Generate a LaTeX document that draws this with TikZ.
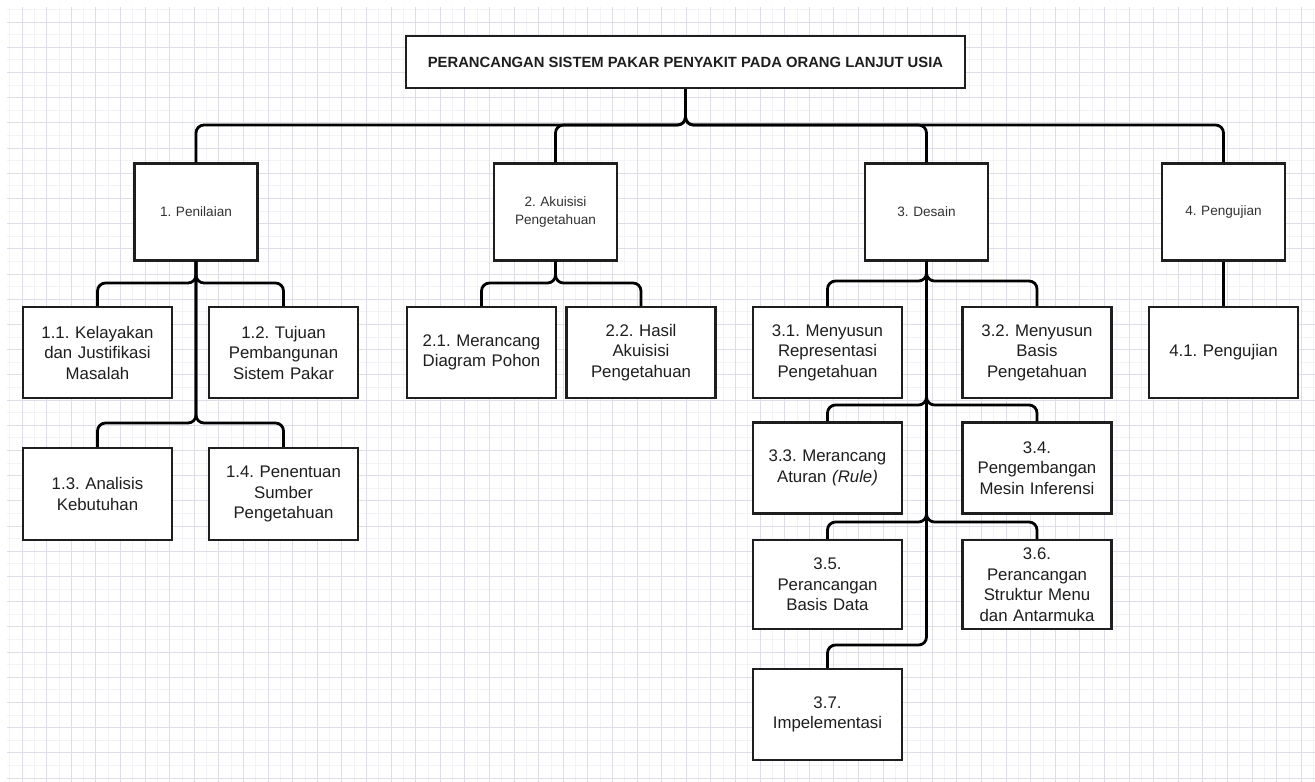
\documentclass[tikz,border=0pt]{standalone}
\usepackage{fontspec}
\setmainfont{Liberation Sans}
\frenchspacing
\definecolor{gridmajor}{RGB}{222,222,232}
\definecolor{gridminor}{RGB}{242,242,247}
\definecolor{boxline}{RGB}{30,30,30}
\definecolor{txtmain}{RGB}{30,30,30}
\definecolor{txtsoft}{RGB}{50,50,50}
\tikzset{
  box/.style={draw=boxline, line width=2.2pt, fill=white, inner sep=2pt, align=center},
  topbox/.style={box, minimum width=559pt, minimum height=52pt,
    font=\bfseries\fontsize{14.8}{17}\selectfont, text=txtmain},
  phasebox/.style={box, minimum width=123pt, minimum height=97pt,
    font=\fontsize{13.6}{17.5}\selectfont, text=txtsoft, text width=115pt},
  taskbox/.style={box, minimum width=149pt, minimum height=91pt,
    font=\fontsize{16.8}{20.5}\selectfont, text=txtmain, text width=141pt},
  conn/.style={draw=black, line width=2.8pt, rounded corners=8pt},
}
\begin{document}
\begin{tikzpicture}[x=1pt, y=-1pt]
\useasboundingbox (0,0) rectangle (1315,782);
\fill[white] (0,0) rectangle (1315,782);

% background grid
\foreach \k in {0,...,53} {
  \draw[gridminor, line width=0.8pt] ({9.7+24.6*\k},7) -- ({9.7+24.6*\k},782);
}
\foreach \k in {0,...,30} {
  \draw[gridminor, line width=0.8pt] (7,{9.4+25.2*\k}) -- (1315,{9.4+25.2*\k});
}
\foreach \k in {0,...,52} {
  \draw[gridmajor, line width=0.9pt] ({22+24.6*\k},7) -- ({22+24.6*\k},782);
}
\foreach \k in {0,...,30} {
  \draw[gridmajor, line width=0.9pt] (7,{22+25.2*\k}) -- (1315,{22+25.2*\k});
}

% boxes
\node[topbox] (root) at (685.5,62) {PERANCANGAN SISTEM PAKAR PENYAKIT PADA ORANG LANJUT USIA};

\node[phasebox] (p1) at (196,212) {1. Penilaian};
\node[phasebox] (p2) at (555.5,212) {2. Akuisisi\\Pengetahuan};
\node[phasebox] (p3) at (926.5,212) {3. Desain};
\node[phasebox] (p4) at (1223.5,212) {4. Pengujian};

\node[taskbox] (t11) at (97.5,352.5) {1.1. Kelayakan\\dan Justifikasi\\Masalah};
\node[taskbox] (t12) at (283.5,352.5) {1.2. Tujuan\\Pembangunan\\Sistem Pakar};
\node[taskbox, minimum height=92pt] (t13) at (97.5,494) {1.3. Analisis\\Kebutuhan};
\node[taskbox, minimum height=92pt] (t14) at (283.5,494) {1.4. Penentuan\\Sumber\\Pengetahuan};

\node[taskbox] (t21) at (481.5,352.5) {2.1. Merancang\\Diagram Pohon};
\node[taskbox] (t22) at (641,352.5) {2.2. Hasil\\Akuisisi\\Pengetahuan};

\node[taskbox] (t31) at (827.5,352.5) {3.1. Menyusun\\Representasi\\Pengetahuan};
\node[taskbox] (t32) at (1037,352.5) {3.2. Menyusun\\Basis\\Pengetahuan};
\node[taskbox] (t33) at (827.5,468) {3.3. Merancang\\Aturan \textit{(Rule)}};
\node[taskbox] (t34) at (1037,468) {3.4.\\Pengembangan\\Mesin Inferensi};
\node[taskbox, minimum height=89pt] (t35) at (827.5,584.5) {3.5.\\Perancangan\\Basis Data};
\node[taskbox, minimum height=89pt] (t36) at (1037,584.5) {3.6.\\Perancangan\\Struktur Menu\\dan Antarmuka};
\node[taskbox] (t37) at (827.5,714.5) {3.7.\\Impelementasi};

\node[taskbox] (t41) at (1223.5,352.5) {4.1. Pengujian};

% branching levels
\coordinate (jroot) at (685.5,125);
\coordinate (j1a) at (196,283);
\coordinate (j1b) at (196,423);
\coordinate (j2a) at (555.5,283);
\coordinate (j3a) at (926.5,281);
\coordinate (j3b) at (926.5,405);
\coordinate (j3c) at (926.5,522);
\coordinate (j3d) at (926.5,645);

% connectors
\foreach \c in {p1,p2,p3,p4} {
  \draw[conn] (root.south) -- (root.south |- jroot) -- (\c.north |- jroot) -- (\c.north);
}
\foreach \c in {t11,t12} {
  \draw[conn] (p1.south) -- (p1.south |- j1a) -- (\c.north |- j1a) -- (\c.north);
}
\foreach \c in {t13,t14} {
  \draw[conn] (p1.south) -- (p1.south |- j1b) -- (\c.north |- j1b) -- (\c.north);
}
\foreach \c in {t21,t22} {
  \draw[conn] (p2.south) -- (p2.south |- j2a) -- (\c.north |- j2a) -- (\c.north);
}
\foreach \c in {t31,t32} {
  \draw[conn] (p3.south) -- (p3.south |- j3a) -- (\c.north |- j3a) -- (\c.north);
}
\foreach \c in {t33,t34} {
  \draw[conn] (p3.south) -- (p3.south |- j3b) -- (\c.north |- j3b) -- (\c.north);
}
\draw[conn] (p3.south) -- (p3.south |- j3c) -- (t35.north |- j3c) -- (t35.north);
\draw[conn] (p3.south) -- (p3.south |- j3c) -- (t36.north |- j3c) -- (t36.north);
\draw[conn] (p3.south) -- (p3.south |- j3d) -- (t37.north |- j3d) -- (t37.north);
\draw[conn] (p4.south) -- (t41.north);
\end{tikzpicture}
\end{document}
